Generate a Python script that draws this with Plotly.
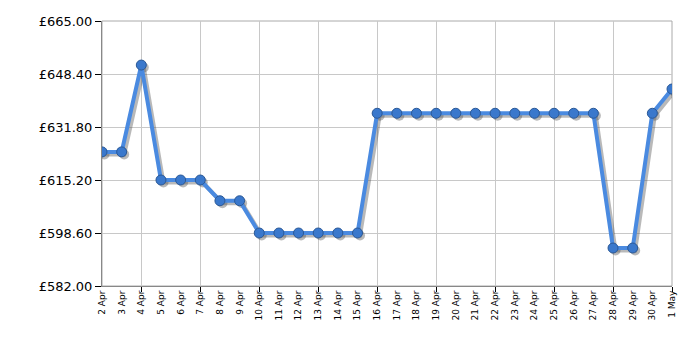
import plotly.graph_objects as go
import pandas as pd

dates = ["2024-04-%02d" % d for d in range(2, 31)] + ["2024-05-01"]
labels = ["%d Apr" % d for d in range(2, 31)] + ["1 May"]
prices = [624.0, 624.0, 651.2, 615.2, 615.2, 615.2, 608.7, 608.7,
          598.6, 598.6, 598.6, 598.6, 598.6, 598.6,
          636.1, 636.1, 636.1, 636.1, 636.1, 636.1, 636.1, 636.1, 636.1, 636.1, 636.1, 636.1,
          593.9, 593.9, 636.1, 643.7]
grid_dates = dates[2::3]
y_ticks = [582.0, 598.6, 615.2, 631.8, 648.4, 665.0]
y_labels = ["£%.2f" % v for v in y_ticks]

W, H = 700, 350
L, R, T, B = 102, 28, 21, 64
pw, ph = W - L - R, H - T - B
shift_px = 2.5
xr = [dates[0], dates[-1]]
yr = [582, 665]
span = pd.Timestamp(xr[1]) - pd.Timestamp(xr[0])
xoff = span * (shift_px / pw)
xr_sh = [str(pd.Timestamp(xr[0]) - xoff), str(pd.Timestamp(xr[1]) - xoff)]
yoff = (yr[1] - yr[0]) * shift_px / ph
yr_sh = [yr[0] + yoff, yr[1] + yoff]

fig = go.Figure()
fig.add_trace(go.Scatter(x=[dates[0]], y=[None], xaxis="x", yaxis="y", showlegend=False, hoverinfo="skip"))
fig.add_trace(go.Scatter(x=[dates[0]], y=[None], xaxis="x3", yaxis="y", showlegend=False, hoverinfo="skip"))
# shadow
fig.add_trace(go.Scatter(x=dates, y=prices, xaxis="x2", yaxis="y2", mode="lines+markers",
                         line=dict(color="rgba(80,80,80,0.4)", width=4),
                         marker=dict(size=10, color="rgba(80,80,80,0.4)"),
                         hoverinfo="skip", showlegend=False))
fig.add_trace(go.Scatter(x=dates, y=prices, xaxis="x4", yaxis="y4", mode="lines+markers",
                         line=dict(color="#4a8ae0", width=4),
                         marker=dict(size=10, color="#3a78cc", line=dict(color="#2a5896", width=1)),
                         showlegend=False))

fig.update_layout(
    width=W, height=H, margin=dict(l=L, r=R, t=T, b=B),
    paper_bgcolor="white", plot_bgcolor="white",
    font=dict(family="DejaVu Sans", color="#000"),
    xaxis=dict(type="date", range=xr, tickvals=dates, ticktext=labels, tickangle=-90,
               tickfont=dict(size=9), ticks="", showgrid=False, zeroline=False,
               showline=True, linecolor="#888", linewidth=1, mirror=False),
    xaxis3=dict(type="date", range=xr, overlaying="x", anchor="y", side="bottom",
                tickvals=grid_dates, showticklabels=False, ticks="outside", ticklen=5,
                tickcolor="#000", showgrid=True, gridcolor="#c8c8c8", gridwidth=1,
                showline=False, zeroline=False),
    yaxis=dict(range=yr, tickvals=y_ticks, ticktext=y_labels, tickfont=dict(size=13),
               ticks="outside", ticklen=6, tickcolor="#000", showgrid=True, gridcolor="#c8c8c8",
               zeroline=False, showline=True, linecolor="#888", linewidth=1),
    xaxis2=dict(type="date", range=xr_sh, overlaying="x", anchor="y2", visible=False),
    yaxis2=dict(range=yr_sh, overlaying="y", anchor="x2", visible=False),
    xaxis4=dict(type="date", range=xr, overlaying="x", anchor="y4", visible=False),
    yaxis4=dict(range=yr, overlaying="y", anchor="x4", visible=False),
    shapes=[dict(type="rect", xref="paper", yref="paper", x0=0, x1=1, y0=0, y1=1,
                 line=dict(color="#aaa", width=1), layer="below")],
)
fig.write_html("out.html")
